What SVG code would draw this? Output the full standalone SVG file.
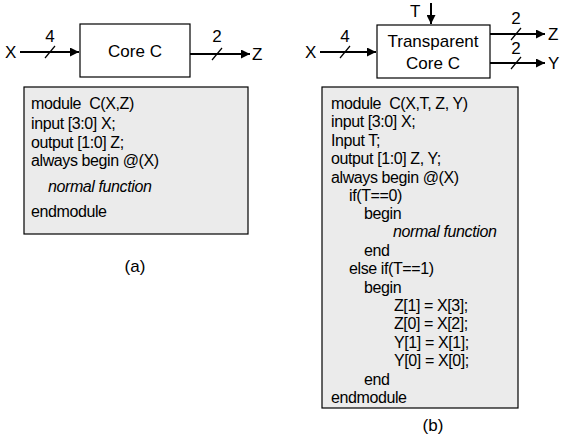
<svg xmlns="http://www.w3.org/2000/svg" width="562" height="440" viewBox="0 0 562 440">
  <style>
    text { font-family: "Liberation Sans", Arial, sans-serif; fill: #000; }
    .lbl { font-size: 17px; }
    .code { font-size: 16px; letter-spacing: -0.4px; }
    .it { font-style: italic; }
    .box { fill: #fff; stroke: #000; stroke-width: 1.2; }
    .codebox { fill: #ebebeb; stroke: #000; stroke-width: 1.2; }
    .wire { stroke: #000; stroke-width: 2; fill: none; }
    .tick { stroke: #000; stroke-width: 1.2; }
  </style>
  <defs>
    <marker id="arrow" viewBox="0 0 10 10" refX="10" refY="5" markerWidth="4.5" markerHeight="4.5" orient="auto" markerUnits="strokeWidth">
      <path d="M0,0 L10,5 L0,10 z" fill="#000"/>
    </marker>
  </defs>

  <!-- (a) plain core -->
  <g id="coreA">
    <rect class="box" x="80" y="24" width="110" height="53"/>
    <text class="lbl" x="135" y="57" text-anchor="middle">Core C</text>
  </g>
  <g id="inXA">
    <text class="lbl" x="5" y="58">X</text>
  </g>
  <g id="outZA">
    <text class="lbl" x="252" y="60">Z</text>
  </g>
  <g id="codeA">
    <rect class="codebox" x="24" y="87" width="224" height="147"/>
    <text class="code" x="31" y="109" xml:space="preserve">module  C(X,Z)</text>
    <text class="code" x="31" y="129">input [3:0] X;</text>
    <text class="code" x="31" y="148">output [1:0] Z;</text>
    <text class="code" x="31" y="166">always begin @(X)</text>
    <text class="code it" x="48" y="192">normal function</text>
    <text class="code" x="31" y="217">endmodule</text>
  </g>
  <text class="lbl" x="135" y="272" text-anchor="middle">(a)</text>

  <!-- (b) transparent core -->
  <g id="coreB">
    <rect class="box" x="377" y="25" width="113" height="53"/>
    <text class="lbl" x="433" y="47" text-anchor="middle">Transparent</text>
    <text class="lbl" x="433" y="69" text-anchor="middle">Core C</text>
  </g>
  <g id="inXB">
    <text class="lbl" x="305" y="58">X</text>
  </g>
  <g id="inTB">
    <text class="lbl" x="410" y="17">T</text>
  </g>
  <g id="outZB">
    <text class="lbl" x="548" y="40">Z</text>
  </g>
  <g id="outYB">
    <text class="lbl" x="548" y="69">Y</text>
  </g>
  <g id="codeB">
    <rect class="codebox" x="322" y="87" width="196" height="321"/>
    <text class="code" x="331" y="109" xml:space="preserve">module  C(X,T, Z, Y)</text>
    <text class="code" x="331" y="127">input [3:0] X;</text>
    <text class="code" x="331" y="146">Input T;</text>
    <text class="code" x="331" y="164">output [1:0] Z, Y;</text>
    <text class="code" x="331" y="183">always begin @(X)</text>
    <text class="code" x="349" y="201">if(T==0)</text>
    <text class="code" x="364" y="219">begin</text>
    <text class="code it" x="393" y="237">normal function</text>
    <text class="code" x="364" y="256">end</text>
    <text class="code" x="349" y="274">else if(T==1)</text>
    <text class="code" x="364" y="293">begin</text>
    <text class="code" x="394" y="311">Z[1] = X[3];</text>
    <text class="code" x="394" y="329">Z[0] = X[2];</text>
    <text class="code" x="394" y="348">Y[1] = X[1];</text>
    <text class="code" x="394" y="366">Y[0] = X[0];</text>
    <text class="code" x="364" y="385">end</text>
    <text class="code" x="331" y="403">endmodule</text>
  </g>
  <text class="lbl" x="433" y="431" text-anchor="middle">(b)</text>

  <!-- bus wires with width ticks -->
  <g id="connectors">
    <line class="wire" x1="20" y1="52" x2="79" y2="52" marker-end="url(#arrow)"/>
    <line class="tick" x1="45" y1="58" x2="55" y2="46"/>
    <text class="lbl" x="50" y="42" text-anchor="middle">4</text>

    <line class="wire" x1="190" y1="54" x2="250" y2="54" marker-end="url(#arrow)"/>
    <line class="tick" x1="212" y1="60" x2="222" y2="48"/>
    <text class="lbl" x="217" y="42" text-anchor="middle">2</text>

    <line class="wire" x1="320" y1="52" x2="376" y2="52" marker-end="url(#arrow)"/>
    <line class="tick" x1="340" y1="58" x2="350" y2="46"/>
    <text class="lbl" x="345" y="42" text-anchor="middle">4</text>

    <line class="wire" x1="431" y1="3" x2="431" y2="24" marker-end="url(#arrow)"/>

    <line class="wire" x1="490" y1="34" x2="545" y2="34" marker-end="url(#arrow)"/>
    <line class="tick" x1="511" y1="40" x2="521" y2="28"/>
    <text class="lbl" x="516" y="24" text-anchor="middle">2</text>

    <line class="wire" x1="490" y1="63" x2="545" y2="63" marker-end="url(#arrow)"/>
    <line class="tick" x1="511" y1="69" x2="521" y2="57"/>
    <text class="lbl" x="516" y="54" text-anchor="middle">2</text>
  </g>
</svg>
